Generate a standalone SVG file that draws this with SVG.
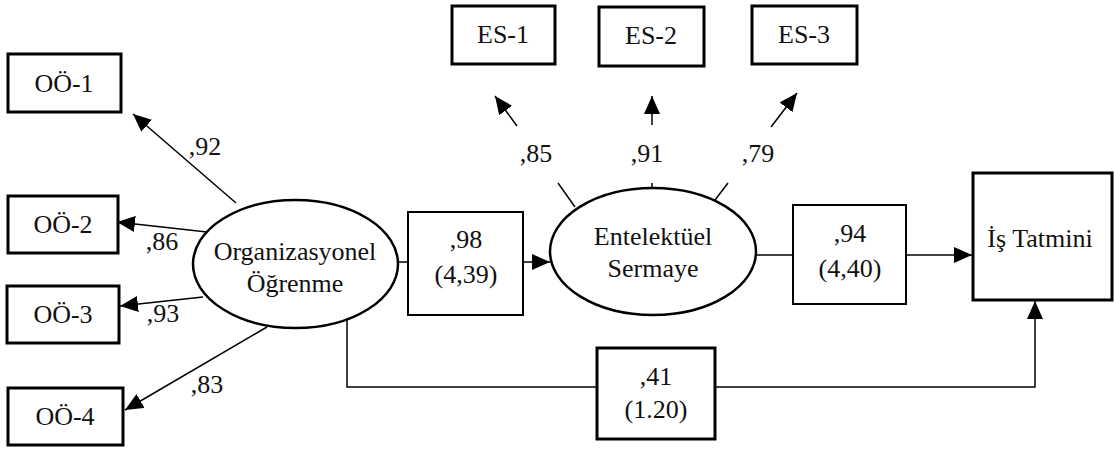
<svg xmlns="http://www.w3.org/2000/svg" width="1114" height="449" viewBox="0 0 1114 449">
<style>
text{font-size:26px;fill:#111;text-anchor:middle}
.obs{fill:#fff;stroke:#000;stroke-width:3}
.box{fill:#fff;stroke:#000;stroke-width:2}
.lat{fill:#fff;stroke:#000;stroke-width:2.5}
.ln{fill:none;stroke:#000;stroke-width:1.5}
</style>
<defs>
<marker id="ahL" markerWidth="18" markerHeight="16" refX="18" refY="8" orient="auto" markerUnits="userSpaceOnUse" viewBox="0 0 18 16">
<path d="M0,0 L18,8 L0,16 Z" fill="#000"/>
</marker>
</defs>
<g font-family="Liberation Serif, DejaVu Serif, serif">
<g id="connectors">
<line class="ln" x1="236" y1="203" x2="133" y2="114" marker-end="url(#ahL)"/>
<line class="ln" x1="207" y1="232" x2="117" y2="222" marker-end="url(#ahL)"/>
<line class="ln" x1="203" y1="297" x2="120" y2="306" marker-end="url(#ahL)"/>
<line class="ln" x1="267" y1="327" x2="125" y2="410" marker-end="url(#ahL)"/>
<line class="ln" x1="517" y1="126" x2="495" y2="96" marker-end="url(#ahL)"/>
<line class="ln" x1="652" y1="125" x2="652" y2="96" marker-end="url(#ahL)"/>
<line class="ln" x1="771" y1="127" x2="797" y2="93" marker-end="url(#ahL)"/>
<line class="ln" x1="558" y1="183" x2="575" y2="207"/>
<line class="ln" x1="652" y1="183" x2="652" y2="189"/>
<line class="ln" x1="728" y1="183" x2="715" y2="200"/>
<line class="ln" x1="397" y1="262" x2="408" y2="262"/>
<line class="ln" x1="523" y1="262" x2="550" y2="262" marker-end="url(#ahL)"/>
<line class="ln" x1="756" y1="255" x2="793" y2="255"/>
<line class="ln" x1="906" y1="255" x2="972" y2="255" marker-end="url(#ahL)"/>
<polyline class="ln" points="347,317 347,387 597,387"/>
<polyline class="ln" points="715,387 1035,387 1035,301" marker-end="url(#ahL)"/>
<text x="205" y="155">,92</text>
<text x="162" y="250">,86</text>
<text x="163" y="322">,93</text>
<text x="207" y="393">,83</text>
<text x="536" y="162">,85</text>
<text x="647" y="162">,91</text>
<text x="758" y="162">,79</text>
</g>
<g id="oo1"><rect class="obs" x="8" y="54" width="113" height="58"/><text x="64" y="92">OÖ-1</text></g>
<g id="oo2"><rect class="obs" x="8" y="196" width="110" height="57"/><text x="63" y="233">OÖ-2</text></g>
<g id="oo3"><rect class="obs" x="7" y="286" width="112" height="57"/><text x="63" y="323">OÖ-3</text></g>
<g id="oo4"><rect class="obs" x="8" y="388" width="115" height="57"/><text x="65" y="425">OÖ-4</text></g>
<g id="es1"><rect class="obs" x="452" y="6" width="103" height="58"/><text x="503" y="43">ES-1</text></g>
<g id="es2"><rect class="obs" x="599" y="7" width="105" height="59"/><text x="651" y="44">ES-2</text></g>
<g id="es3"><rect class="obs" x="752" y="6" width="105" height="58"/><text x="804" y="43">ES-3</text></g>
<g id="org"><ellipse class="lat" cx="295.5" cy="264" rx="102.5" ry="64"/><text x="295" y="260">Organizasyonel</text><text x="295" y="292">Öğrenme</text></g>
<g id="ent"><ellipse class="lat" cx="653" cy="251.5" rx="103" ry="63.5"/><text x="653" y="245">Entelektüel</text><text x="653" y="277">Sermaye</text></g>
<g id="p98"><rect class="box" x="408" y="212" width="115" height="103"/><text x="466" y="248">,98</text><text x="466" y="283">(4,39)</text></g>
<g id="p94"><rect class="box" x="793" y="205" width="113" height="99"/><text x="850" y="242">,94</text><text x="850" y="277">(4,40)</text></g>
<g id="p41"><rect class="obs" x="597" y="348" width="118" height="91"/><text x="656" y="385">,41</text><text x="656" y="418">(1.20)</text></g>
<g id="is"><rect class="obs" x="973" y="173" width="139" height="127"/><text x="1040" y="247">İş Tatmini</text></g>
</g>
</svg>
